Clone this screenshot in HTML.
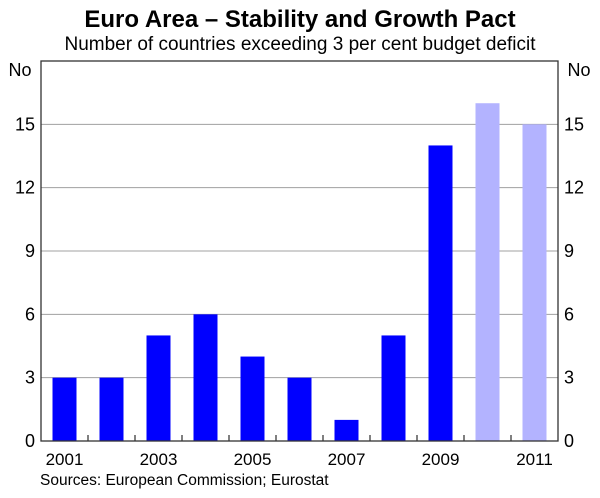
<!DOCTYPE html>
<html><head><meta charset="utf-8"><style>
body{margin:0;background:#fff;font-family:"Liberation Sans",sans-serif}
</style></head><body>
<svg id="c" width="600" height="493" xmlns="http://www.w3.org/2000/svg" font-family="Liberation Sans, sans-serif">
<text x="300" y="27" text-anchor="middle" font-size="24" font-weight="bold">Euro Area – Stability and Growth Pact</text>
<text x="300" y="50" text-anchor="middle" font-size="19">Number of countries exceeding 3 per cent budget deficit</text>
<text x="20" y="76" text-anchor="middle" font-size="18">No</text>
<text x="579" y="76" text-anchor="middle" font-size="18">No</text>
<g id="grid"></g><g id="bars"></g><g id="axes"></g>
<text x="40" y="485" font-size="15.5">Sources: European Commission; Eurostat</text>
</svg>
<script>
const years=["2001","2002","2003","2004","2005","2006","2007","2008","2009","2010","2011"];
const values=[3,3,5,6,4,3,1,5,14,16,15];
const forecast=[false,false,false,false,false,false,false,false,false,true,true];
const yTicks=[0,3,6,9,12,15];
const xLabels=["2001","2003","2005","2007","2009","2011"];
const L=41,R=558,T=61,B=441,yMax=18;
const ns="http://www.w3.org/2000/svg";
const y=v=>B-(v/yMax)*(B-T);
const cw=(R-L)/years.length;
const xc=i=>L+cw*(i+0.5);
function mk(t,a,p){const e=document.createElementNS(ns,t);for(const k in a)e.setAttribute(k,a[k]);p.appendChild(e);return e;}
const g=document.getElementById('grid'),b=document.getElementById('bars'),ax=document.getElementById('axes');
yTicks.forEach(v=>{
 if(v>0){const l=mk('line',{x1:L,x2:R,y1:y(v),y2:y(v),stroke:'#a0a0a0','stroke-width':1},g);
 
 }
 const t1=mk('text',{x:L-6,y:y(v)+6,'text-anchor':'end','font-size':18},g);t1.textContent=v;
 
 
 const t2=mk('text',{x:R+6,y:y(v)+6,'text-anchor':'start','font-size':18},g);t2.textContent=v;
 
 
});
values.forEach((v,i)=>{
 const r=mk('rect',{x:xc(i)-12,y:y(v),width:24,height:B-y(v),fill:forecast[i]?'#b3b3ff':'#0000ff'},b);
 
 
});
for(let i=1;i<years.length;i++){const l=mk('line',{x1:L+cw*i,x2:L+cw*i,y1:B,y2:B-6,stroke:'#000','stroke-width':1},ax);
 
 }
const f=mk('rect',{x:L,y:T,width:R-L,height:B-T,fill:'none',stroke:'#333','stroke-width':1.3},ax);


xLabels.forEach(s=>{const i=years.indexOf(s);const t=mk('text',{x:xc(i),y:465,'text-anchor':'middle','font-size':17},ax);t.textContent=s;
 
 });
</script>
</body></html>
